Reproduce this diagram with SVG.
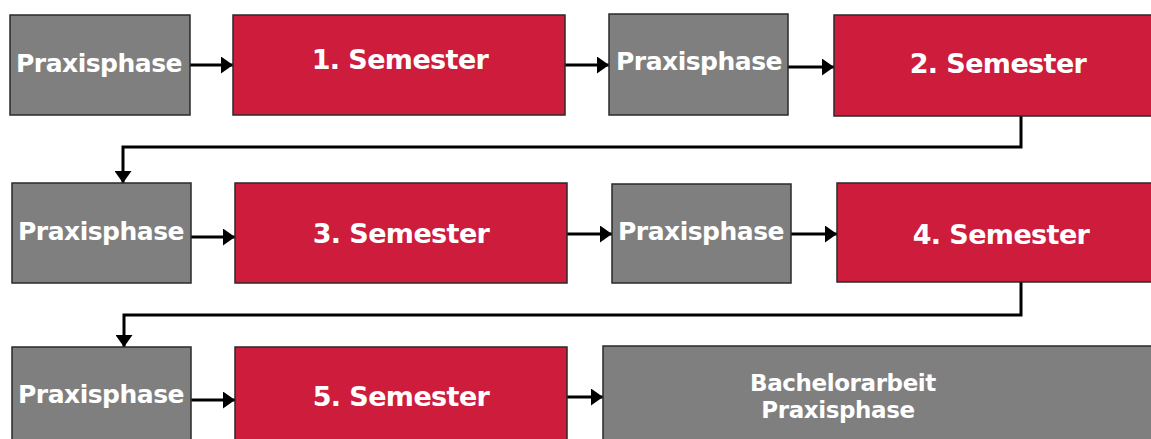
<svg xmlns="http://www.w3.org/2000/svg" width="1151" height="439" viewBox="0 0 1151 439">
  <defs>
    <style>
      .gray { fill: #7f7f7f; stroke: #2a2a2a; stroke-width: 1.5; }
      .red { fill: #cd1c3c; stroke: #2a2a2a; stroke-width: 1.5; }
      .lbl { fill: #ffffff; font-family: "DejaVu Sans", Verdana, sans-serif; font-weight: bold; text-anchor: middle; }
      .p { font-size: 25px; letter-spacing: -0.5px; }
      .s { font-size: 27px; letter-spacing: -0.6px; }
      .b { font-size: 23px; letter-spacing: -0.4px; }
      .conn { fill: none; stroke: #000000; stroke-width: 3; }
    </style>
    <marker id="ah" viewBox="0 0 10 10" refX="10" refY="5" markerWidth="12" markerHeight="17" markerUnits="userSpaceOnUse" orient="auto" preserveAspectRatio="none">
      <path d="M0,0 L10,5 L0,10 Z" fill="#000000"/>
    </marker>
  </defs>
  <rect width="1151" height="439" fill="#ffffff"/>

  <g id="connectors">
    <line class="conn" x1="190" y1="65" x2="233" y2="65" marker-end="url(#ah)"/>
    <line class="conn" x1="565" y1="65" x2="609" y2="65" marker-end="url(#ah)"/>
    <line class="conn" x1="788" y1="67" x2="834" y2="67" marker-end="url(#ah)"/>
    <polyline class="conn" points="1021,116 1021,147 123,147 123,183" marker-end="url(#ah)"/>
    <line class="conn" x1="191" y1="237" x2="235" y2="237" marker-end="url(#ah)"/>
    <line class="conn" x1="567" y1="234" x2="612" y2="234" marker-end="url(#ah)"/>
    <line class="conn" x1="791" y1="234" x2="837" y2="234" marker-end="url(#ah)"/>
    <polyline class="conn" points="1021,282 1021,315 124,315 124,347" marker-end="url(#ah)"/>
    <line class="conn" x1="191" y1="400" x2="235" y2="400" marker-end="url(#ah)"/>
    <line class="conn" x1="567" y1="397" x2="603" y2="397" marker-end="url(#ah)"/>
  </g>

  <g id="praxis1">
    <rect class="gray" x="10" y="15" width="180" height="100"/>
    <text class="lbl p" x="99" y="72">Praxisphase</text>
  </g>
  <g id="sem1">
    <rect class="red" x="233" y="15" width="332" height="100"/>
    <text class="lbl s" x="400" y="69">1. Semester</text>
  </g>
  <g id="praxis2">
    <rect class="gray" x="609" y="14" width="179" height="101"/>
    <text class="lbl p" x="699" y="70">Praxisphase</text>
  </g>
  <g id="sem2">
    <rect class="red" x="834" y="15" width="330" height="101"/>
    <text class="lbl s" x="998" y="73">2. Semester</text>
  </g>

  <g id="praxis3">
    <rect class="gray" x="12" y="183" width="179" height="100"/>
    <text class="lbl p" x="101" y="240">Praxisphase</text>
  </g>
  <g id="sem3">
    <rect class="red" x="235" y="183" width="332" height="100"/>
    <text class="lbl s" x="401" y="243">3. Semester</text>
  </g>
  <g id="praxis4">
    <rect class="gray" x="612" y="184" width="179" height="99"/>
    <text class="lbl p" x="701" y="240">Praxisphase</text>
  </g>
  <g id="sem4">
    <rect class="red" x="837" y="183" width="330" height="99"/>
    <text class="lbl s" x="1001" y="244">4. Semester</text>
  </g>

  <g id="praxis5">
    <rect class="gray" x="12" y="347" width="179" height="100"/>
    <text class="lbl p" x="101" y="403">Praxisphase</text>
  </g>
  <g id="sem5">
    <rect class="red" x="235" y="347" width="332" height="100"/>
    <text class="lbl s" x="401" y="406">5. Semester</text>
  </g>
  <g id="bachelor">
    <rect class="gray" x="603" y="346" width="560" height="100"/>
    <text class="lbl b" x="843" y="391">Bachelorarbeit</text>
    <text class="lbl b" x="838" y="418">Praxisphase</text>
  </g>
</svg>
